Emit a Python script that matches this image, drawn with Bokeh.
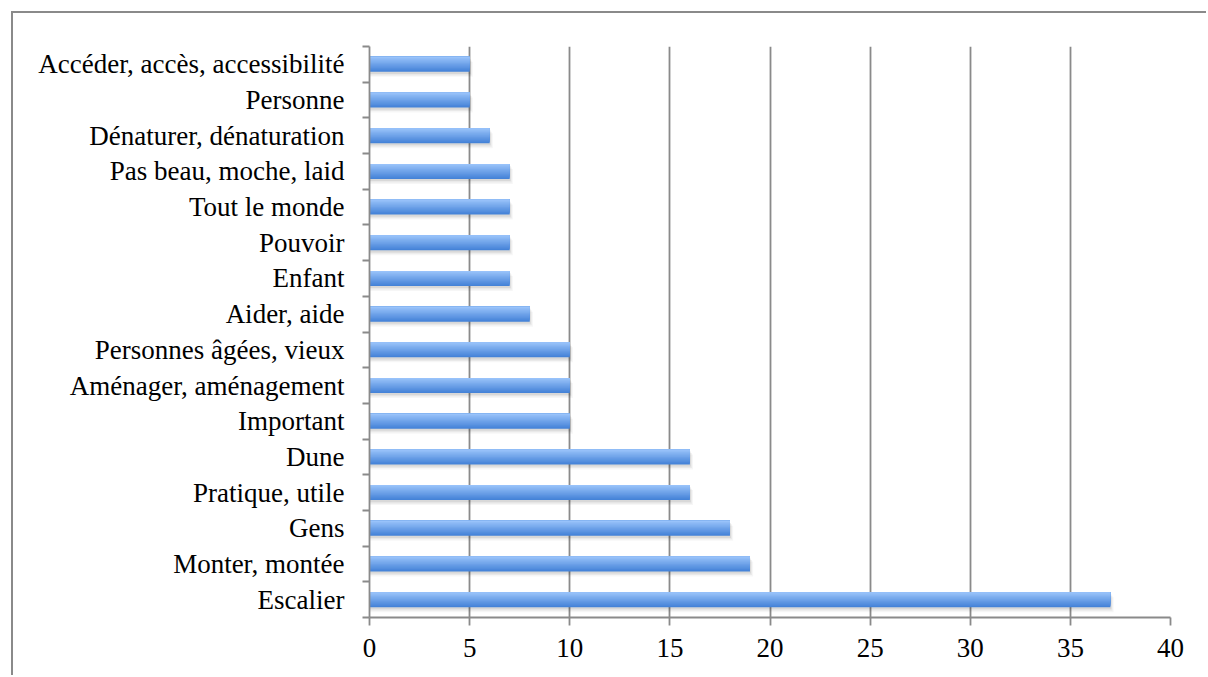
import numpy as np
from bokeh.plotting import figure
from bokeh.models import Range1d, FixedTicker
from bokeh.embed import file_html
from bokeh.resources import INLINE

# bottom to top
categories = ["Escalier", "Monter, montée", "Gens", "Pratique, utile", "Dune",
              "Important", "Aménager, aménagement", "Personnes âgées, vieux",
              "Aider, aide", "Enfant", "Pouvoir", "Tout le monde",
              "Pas beau, moche, laid", "Dénaturer, dénaturation", "Personne",
              "Accéder, accès, accessibilité"]
values = [37, 19, 18, 16, 16, 10, 10, 10, 8, 7, 7, 7, 7, 6, 5, 5]
x_ticks = [0, 5, 10, 15, 20, 25, 30, 35, 40]

n = len(categories)
ypos = np.arange(n)

W, H = 1195, 664
p = figure(width=W, height=H, output_backend="svg", toolbar_location=None,
           x_range=Range1d(0, 40), y_range=Range1d(-0.5, n - 0.5),
           min_border_left=356, min_border_right=38,
           min_border_top=33, min_border_bottom=60)
p.margin = (11, 0, 0, 11)
p.styles = {"border-left": "2px solid #8a8a8a", "border-top": "2px solid #8a8a8a"}
p.outline_line_color = None
p.background_fill_color = "white"
p.border_fill_color = "white"

grid_col = "#8a8a8a"
font = "Liberation Serif"

# grid
p.ygrid.visible = False
p.xgrid.ticker = FixedTicker(ticks=x_ticks)
p.xgrid.grid_line_color = grid_col
p.xgrid.grid_line_width = 1.8

# x axis
xa = p.xaxis[0]
xa.ticker = FixedTicker(ticks=x_ticks)
xa.axis_line_color = grid_col
xa.axis_line_width = 1.8
xa.major_tick_line_color = grid_col
xa.major_tick_line_width = 1.8
xa.major_tick_in = 0
xa.major_tick_out = 8
xa.minor_tick_line_color = None
xa.major_label_text_font = font
xa.major_label_text_font_size = "27px"
xa.major_label_text_color = "black"
xa.major_label_standoff = 13

# y axis
ya = p.yaxis[0]
ya.ticker = FixedTicker(ticks=list(ypos), minor_ticks=list(np.arange(n + 1) - 0.5))
ya.major_label_overrides = {int(i): c for i, c in zip(ypos, categories)}
ya.axis_line_color = grid_col
ya.axis_line_width = 1.8
ya.major_tick_line_color = None
ya.major_tick_in = 0
ya.major_tick_out = 0
ya.minor_tick_line_color = grid_col
ya.minor_tick_line_width = 1.8
ya.minor_tick_in = 0
ya.minor_tick_out = 7
ya.major_label_text_font = font
ya.major_label_text_font_size = "27px"
ya.major_label_text_color = "black"
ya.major_label_standoff = 18

# bars: soft shadow + vertical gradient (overlapping layers, no seams)
bh = 0.42
vals = np.array(values, dtype=float)
for dy, dx, a in [(0.14, 0.16, 0.035), (0.10, 0.10, 0.05), (0.06, 0.05, 0.07)]:
    p.hbar(y=ypos - dy, left=0, right=vals + dx, height=bh,
           fill_color="#000000", fill_alpha=a, line_color=None)
top_c = np.array([0x98, 0xc2, 0xfa])
bot_c = np.array([0x45, 0x83, 0xd8])
k = 12
top_edge = ypos + bh / 2
for s in range(k):
    t = 1 - s / (k - 1)
    c = (top_c * (1 - t) + bot_c * t).astype(int)
    col = "#%02x%02x%02x" % tuple(c)
    bottom_edge = ypos - bh / 2 + s * bh / k
    p.hbar(y=(top_edge + bottom_edge) / 2, left=0, right=values,
           height=top_edge - bottom_edge, fill_color=col, line_color=None)

open("out.html", "w").write(file_html(p, INLINE))
